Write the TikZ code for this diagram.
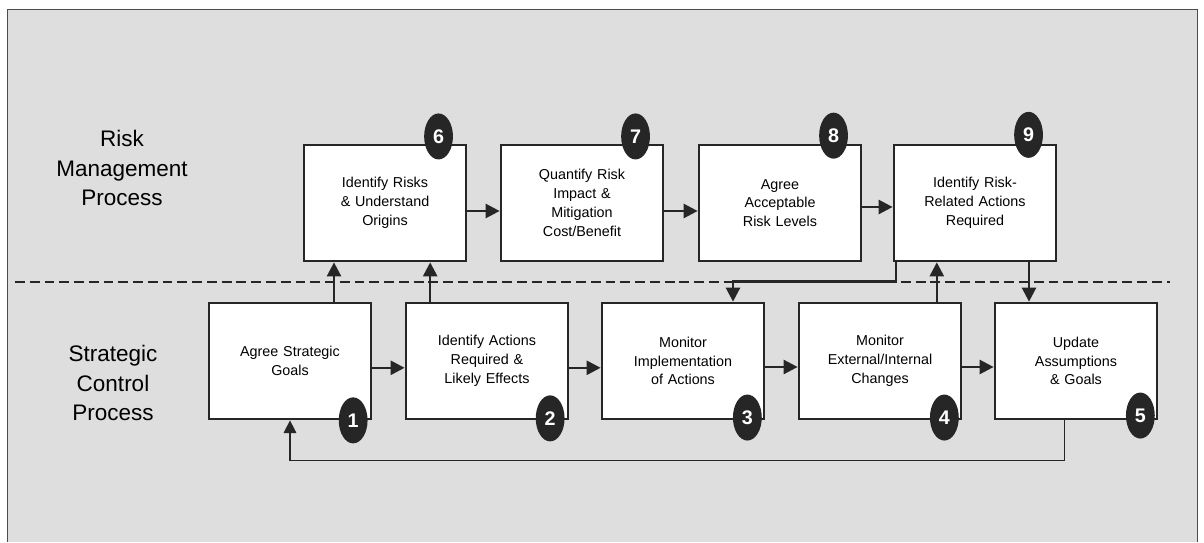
\documentclass[tikz,border=0pt]{standalone}
\usepackage{fontspec}
\setmainfont{Liberation Sans}
\usetikzlibrary{shapes,arrows,arrows.meta,positioning,calc}

\tikzstyle{stepbox} = [draw=black!85, fill=white, line width=1.9pt, rectangle,
    minimum width=4.05cm, minimum height=2.9cm, text width=3.6cm, align=center,
    font=\fontsize{10.2}{13.4}\selectfont]
\tikzstyle{badge} = [ellipse, fill=black!85, text=white, inner sep=0pt,
    minimum width=0.72cm, minimum height=1.15cm, font=\fontsize{14}{14}\selectfont\bfseries]
\tikzstyle{lanetitle} = [align=center, font=\fontsize{16}{20.8}\selectfont]
\tikzstyle{flow} = [draw=black!85, line width=1.8pt, -{Triangle[length=10pt,width=10pt]}]
\tikzstyle{back} = [draw=black!85, line width=0.9pt, -{Triangle[length=9pt,width=9pt]}]

\begin{document}
\begin{tikzpicture}[x=0.025cm,y=0.025cm]
\useasboundingbox (0,0) rectangle (1204,542);
\fill[white] (0,0) rectangle (1204,542);
\fill[black!13] (7,0) rectangle (1197,533);
\draw[black!70, line width=0.6pt] (7,0) -- (7,533) -- (1197,533) -- (1197,0);

% process titles
\node[lanetitle] (riskproc) at (122,374) {Risk\\Management\\Process};
\node[lanetitle] (stratproc) at (113,159) {Strategic\\Control\\Process};

\draw[black!85, line width=1.5pt, dash pattern=on 7pt off 3.5pt] (15,260) -- (1170,260);

% risk management row
\node[stepbox] (r6) at (385,339) {Identify Risks\\\& Understand\\Origins};
\node[stepbox] (r7) at (582,339) {Quantify Risk\\Impact \&\\Mitigation\\Cost/Benefit};
\node[stepbox] (r8) at (780,339) {Agree\\Acceptable\\Risk Levels};
\node[stepbox] (r9) at (975,339) {Identify Risk-\\Related Actions\\Required};

% strategic control row
\node[stepbox] (b1) at (290,181) {Agree Strategic\\Goals};
\node[stepbox] (b2) at (487,181) {Identify Actions\\Required \&\\Likely Effects};
\node[stepbox] (b3) at (683,181) {Monitor\\Implementation\\of Actions};
\node[stepbox] (b4) at (880,181) {Monitor\\External/Internal\\Changes};
\node[stepbox] (b5) at (1076,181) {Update\\Assumptions\\\& Goals};

\node[badge] (n6) at ([xshift=-0.72cm,yshift=0.18cm]r6.north east) {6};
\node[badge] (n7) at ([xshift=-0.72cm,yshift=0.18cm]r7.north east) {7};
\node[badge] (n8) at ([xshift=-0.72cm,yshift=0.2cm]r8.north east) {8};
\node[badge] (n9) at ([xshift=-0.72cm,yshift=0.22cm]r9.north east) {9};
\node[badge] (n1) at ([xshift=-0.48cm,yshift=0.0cm]b1.south east) {1};
\node[badge] (n2) at ([xshift=-0.48cm,yshift=0.05cm]b2.south east) {2};
\node[badge] (n3) at ([xshift=-0.45cm,yshift=0.07cm]b3.south east) {3};
\node[badge] (n4) at ([xshift=-0.45cm,yshift=0.07cm]b4.south east) {4};
\node[badge] (n5) at ([xshift=-0.45cm,yshift=0.12cm]b5.south east) {5};

\draw[flow] ([yshift=-0.2cm]r6.east) -- ([yshift=-0.2cm]r7.west);
\draw[flow] ([yshift=-0.2cm]r7.east) -- ([yshift=-0.2cm]r8.west);
\draw[flow] ([yshift=-0.1cm]r8.east) -- ([yshift=-0.1cm]r9.west);
\draw[flow] ([yshift=-0.17cm]b1.east) -- ([yshift=-0.17cm]b2.west);
\draw[flow] ([yshift=-0.17cm]b2.east) -- ([yshift=-0.17cm]b3.west);
\draw[flow] ([yshift=-0.15cm]b3.east) -- ([yshift=-0.15cm]b4.west);
\draw[flow] ([yshift=-0.15cm]b4.east) -- ([yshift=-0.15cm]b5.west);

\draw[flow] ([xshift=1.1cm]b1.north) -- ([xshift=1.1cm]b1.north |- r6.south);
\draw[flow] ([xshift=-1.42cm]b2.north) -- ([xshift=-1.42cm]b2.north |- r6.south);
\draw[flow] ([xshift=1.42cm]b4.north) -- ([xshift=1.42cm]b4.north |- r9.south);
\draw[flow] ([xshift=0.08cm]r9.south west) |- ([xshift=1.25cm,yshift=0.5cm]b3.north)
    -- ([xshift=1.25cm]b3.north);
\draw[flow] ([xshift=1.35cm]r9.south) -- ([xshift=1.35cm]r9.south |- b5.north);
\draw[back] ([xshift=-0.28cm]b5.south) -- ++(0,-1cm) -| (b1.south);
\end{tikzpicture}
\end{document}
